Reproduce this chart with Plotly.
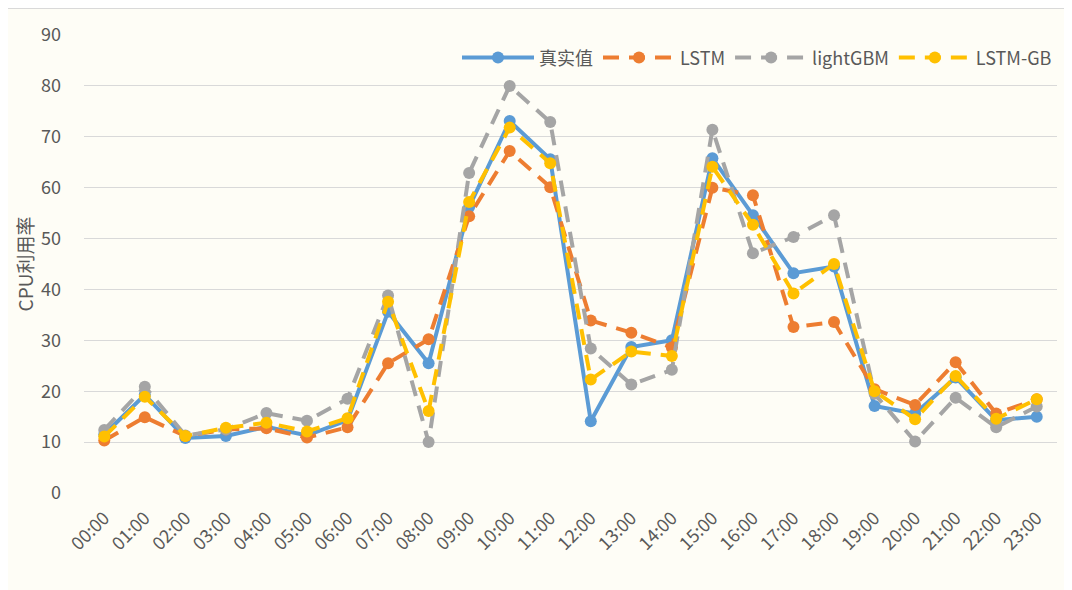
import plotly.graph_objects as go

hours = [f"{h:02d}:00" for h in range(24)]
real = [11.5, 19.3, 10.8, 11.2, 13.0, 11.3, 14.3, 35.6, 25.5, 56.2, 73.1, 65.6,
        14.1, 28.7, 30.0, 65.8, 54.6, 43.2, 44.5, 17.1, 15.6, 22.7, 14.3, 15.0]
lstm = [10.3, 14.9, 11.2, 12.5, 12.7, 10.9, 12.9, 25.5, 30.2, 54.4, 67.2, 60.1,
        33.9, 31.5, 28.6, 60.0, 58.5, 32.6, 33.6, 20.4, 17.3, 25.7, 15.6, 18.4]
lightgbm = [12.4, 20.9, 11.3, 12.5, 15.7, 14.2, 18.5, 38.8, 10.0, 62.9, 80.0, 72.9,
            28.4, 21.3, 24.2, 71.4, 47.1, 50.3, 54.6, 19.5, 10.1, 18.7, 12.9, 17.0]
lstm_gb = [11.1, 18.9, 11.2, 12.8, 13.8, 12.1, 14.7, 37.6, 16.1, 57.2, 71.8, 64.8,
           22.3, 27.8, 26.9, 64.1, 52.7, 39.2, 45.0, 20.0, 14.5, 23.0, 14.6, 18.4]

series = [
    ("真实值", real, "#5B9BD5", "solid"),
    ("LSTM", lstm, "#ED7D31", "16px,10px"),
    ("lightGBM", lightgbm, "#A5A5A5", "16px,10px"),
    ("LSTM-GB", lstm_gb, "#FFC000", "16px,10px"),
]

fig = go.Figure()
for name, vals, color, dash in series:
    fig.add_trace(go.Scatter(
        x=hours, y=vals, name=name, mode="lines+markers",
        line=dict(color=color, width=4, dash=dash),
        marker=dict(color=color, size=12),
    ))

font_fam = "Noto Sans CJK SC, Open Sans, sans-serif"
fig.update_layout(
    width=1072, height=590,
    margin=dict(l=76, r=23, t=27, b=105, autoexpand=False),
    paper_bgcolor="#FEFDF6", plot_bgcolor="#FEFDF6",
    font=dict(family=font_fam, color="#595959"),
    showlegend=True,
    legend=dict(orientation="h", x=1.0, xanchor="right", y=0.95, yanchor="middle",
                bgcolor="rgba(0,0,0,0)", font=dict(size=18, color="#595959"),
                itemwidth=72),
    xaxis=dict(type="category", range=[-0.5, 23.5], tickangle=-45,
               tickfont=dict(size=18, color="#595959"),
               showgrid=False, showline=False, ticks="", zeroline=False,
               automargin=False, ticklabelstandoff=10),
    yaxis=dict(range=[0, 90], dtick=10, tickfont=dict(size=18, color="#595959"),
               gridcolor="#D9D9D9", gridwidth=1.3, zeroline=False, showline=False,
               automargin=False, ticklabelstandoff=22,
               title=dict(text="CPU利用率", font=dict(size=19, color="#595959"), standoff=2)),
    shapes=[dict(type="rect", xref="paper", yref="paper",
                 x0=-0.083, x1=1.1, y0=-0.3, y1=1.059,
                 line=dict(color="#D9D9D9", width=2), fillcolor="rgba(0,0,0,0)", layer="below")],
)

fig.write_html("out.html")
